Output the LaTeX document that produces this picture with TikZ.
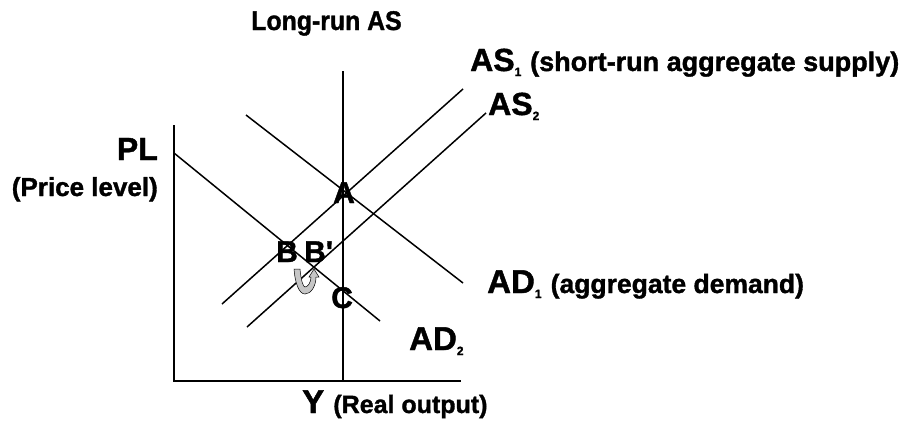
\documentclass[tikz,border=0pt]{standalone}
\usepackage{fontspec}
\setmainfont{Liberation Sans}[Ligatures=TeXOff, BoldFeatures={FakeBold=1.3}]
\begin{document}
\begin{tikzpicture}[x=1pt,y=-1pt,
  curve/.style={line width=1.5pt},
  axis/.style={line width=1.9pt},
  lbl/.style={font=\bfseries, inner sep=0pt, anchor=base west},
]
\newcommand{\fs}[1]{\fontsize{#1}{#1}\selectfont}
\newcommand{\sub}[1]{\raisebox{-5pt}{\fs{12}#1}}
\useasboundingbox (0,0) rectangle (902,421);
% axes
\coordinate (O) at (174,381);
\coordinate (Ytop) at (174,125);
\coordinate (Xend) at (461,381);
\draw[axis] (Ytop) -- (O) -- (Xend);
% long-run AS
\coordinate (LRtop) at (343,71);
\coordinate (LRbot) at (343,381);
\draw[axis] (LRtop) -- (LRbot);
% AD1
\coordinate (AD1a) at (246,115);
\coordinate (AD1b) at (463,283);
\draw[curve] (AD1a) -- (AD1b);
% AD2
\coordinate (AD2a) at (174,153);
\coordinate (AD2b) at (380,321);
\draw[curve] (AD2a) -- (AD2b);
% AS1
\coordinate (AS1a) at (222,304);
\coordinate (AS1b) at (463,89);
\draw[curve] (AS1a) -- (AS1b);
% AS2
\coordinate (AS2a) at (247,327);
\coordinate (AS2b) at (486,113);
\draw[curve] (AS2a) -- (AS2b);
% labels
\node[lbl, anchor=base] (title) at (326.5,30) {\scalebox{0.92}[1]{\fs{27}Long-run AS}};
\node[lbl] (as1) at (470,71) {\fs{32}AS\sub{1} \fs{27}(short-run aggregate supply)};
\node[lbl] (as2) at (488,115) {\fs{32}AS\sub{2}};
\node[lbl, anchor=base east] (pl) at (158,160) {\fs{32}PL};
\node[lbl, anchor=base east] (plt) at (158,196) {\fs{26}(Price level)};
\node[lbl] (ad1) at (487,293) {\fs{33}AD\sub{1} \fs{26.5}(aggregate demand)};
\node[lbl] (ad2) at (409,350) {\fs{33}AD\sub{2}};
\node[lbl] (yl) at (302,413) {\fs{33}Y \fs{25}(Real output)};
\node[lbl] (A) at (333,203) {\fs{30}A};
\node[lbl] (B) at (276,262) {\fs{30}B};
\node[lbl] (Bp) at (304,262) {\fs{30}B'};
\node[lbl] (C) at (331,308) {\fs{30}C};
% U-turn arrow from B to B'
\filldraw[fill=gray!45, draw=black, line width=0.5pt]
  (294,269) -- (300,269)
  .. controls (301,280) and (303,287) .. (305,287)
  .. controls (308,287) and (311,282) .. (311,277)
  -- (309,277) -- (314,269) -- (319,277) -- (316,277)
  .. controls (316,286) and (311,294) .. (305,294)
  .. controls (299,294) and (295,283) .. cycle;
\end{tikzpicture}
\end{document}
